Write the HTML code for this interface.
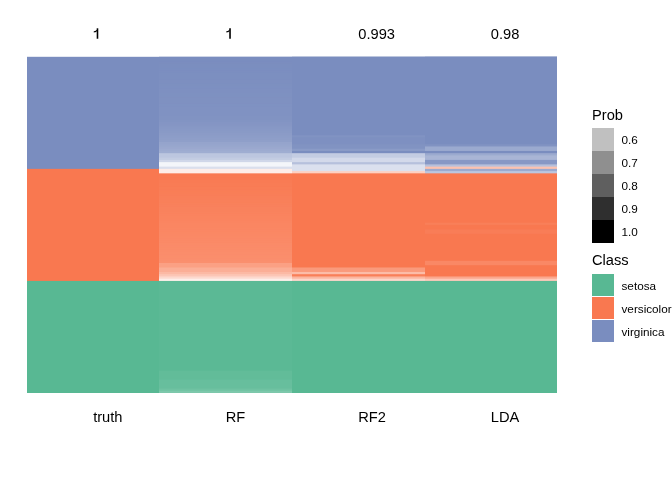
<!DOCTYPE html>
<html><head><meta charset="utf-8"><style>
html,body{margin:0;padding:0;background:#fff;width:672px;height:480px;overflow:hidden}
svg{display:block}
text{font-family:"Liberation Sans",sans-serif;fill:#000}
.lab{font-size:14.67px}
.tit{font-size:14.67px}
.ll{font-size:11.73px}
</style></head><body>
<svg width="672" height="480" viewBox="0 0 672 480">
<rect width="672" height="480" fill="#fff"/>
<g>
<rect x="27.00" y="56.800" width="530.00" height="336.200" fill="#7a8dbf"/>
<rect x="27.00" y="168.867" width="530.00" height="224.133" fill="#f97850"/>
<rect x="27.00" y="280.933" width="530.00" height="112.067" fill="#58b893"/>
<rect x="159.00" y="56.800" width="398.00" height="336.200" fill="#7a8dbf"/>
<rect x="159.00" y="61.283" width="398.00" height="331.717" fill="#7b8dbf"/>
<rect x="159.00" y="63.524" width="398.00" height="329.476" fill="#7b8ebf"/>
<rect x="159.00" y="68.007" width="398.00" height="324.993" fill="#7b8ec0"/>
<rect x="159.00" y="70.248" width="398.00" height="322.752" fill="#7c8ec0"/>
<rect x="159.00" y="72.489" width="398.00" height="320.511" fill="#7c8fc0"/>
<rect x="159.00" y="79.213" width="398.00" height="313.787" fill="#7d8fc0"/>
<rect x="159.00" y="83.696" width="398.00" height="309.304" fill="#7d90c0"/>
<rect x="159.00" y="85.937" width="398.00" height="307.063" fill="#7d90c1"/>
<rect x="159.00" y="88.179" width="398.00" height="304.821" fill="#7e90c1"/>
<rect x="159.00" y="92.661" width="398.00" height="300.339" fill="#7e91c1"/>
<rect x="159.00" y="97.144" width="398.00" height="295.856" fill="#7f91c1"/>
<rect x="159.00" y="103.868" width="398.00" height="289.132" fill="#7f92c2"/>
<rect x="159.00" y="106.109" width="398.00" height="286.891" fill="#8092c2"/>
<rect x="159.00" y="115.075" width="398.00" height="277.925" fill="#8193c2"/>
<rect x="159.00" y="119.557" width="398.00" height="273.443" fill="#8294c3"/>
<rect x="159.00" y="121.799" width="398.00" height="271.201" fill="#8495c4"/>
<rect x="159.00" y="124.040" width="398.00" height="268.960" fill="#8596c4"/>
<rect x="159.00" y="126.281" width="398.00" height="266.719" fill="#8798c5"/>
<rect x="159.00" y="128.523" width="398.00" height="264.477" fill="#8899c6"/>
<rect x="159.00" y="130.764" width="398.00" height="262.236" fill="#899ac6"/>
<rect x="159.00" y="133.005" width="398.00" height="259.995" fill="#8b9bc7"/>
<rect x="159.00" y="135.247" width="398.00" height="257.753" fill="#8c9dc8"/>
<rect x="159.00" y="137.488" width="398.00" height="255.512" fill="#8e9ec9"/>
<rect x="159.00" y="139.729" width="398.00" height="253.271" fill="#8f9fc9"/>
<rect x="159.00" y="141.971" width="398.00" height="251.029" fill="#95a4cc"/>
<rect x="159.00" y="144.212" width="398.00" height="248.788" fill="#97a6cd"/>
<rect x="159.00" y="146.453" width="398.00" height="246.547" fill="#9aa8ce"/>
<rect x="159.00" y="148.695" width="398.00" height="244.305" fill="#9dabd0"/>
<rect x="159.00" y="150.936" width="398.00" height="242.064" fill="#9fadd1"/>
<rect x="159.00" y="153.177" width="398.00" height="239.823" fill="#bcc6df"/>
<rect x="159.00" y="157.660" width="398.00" height="235.340" fill="#c3cce2"/>
<rect x="159.00" y="159.901" width="398.00" height="233.099" fill="#d0d7e9"/>
<rect x="159.00" y="162.143" width="398.00" height="230.857" fill="#f4f6fa"/>
<rect x="159.00" y="166.625" width="398.00" height="226.375" fill="#dadfed"/>
<rect x="159.00" y="168.867" width="398.00" height="224.133" fill="#feede8"/>
<rect x="159.00" y="173.349" width="398.00" height="219.651" fill="#f97952"/>
<rect x="159.00" y="175.591" width="398.00" height="217.409" fill="#f97a52"/>
<rect x="159.00" y="177.832" width="398.00" height="215.168" fill="#f97a53"/>
<rect x="159.00" y="180.073" width="398.00" height="212.927" fill="#f97b54"/>
<rect x="159.00" y="182.315" width="398.00" height="210.685" fill="#f97c55"/>
<rect x="159.00" y="186.797" width="398.00" height="206.203" fill="#f97d56"/>
<rect x="159.00" y="189.039" width="398.00" height="203.961" fill="#f97d57"/>
<rect x="159.00" y="191.280" width="398.00" height="201.720" fill="#f97e57"/>
<rect x="159.00" y="193.521" width="398.00" height="199.479" fill="#f97e58"/>
<rect x="159.00" y="195.763" width="398.00" height="197.237" fill="#f97f59"/>
<rect x="159.00" y="198.004" width="398.00" height="194.996" fill="#f97f5a"/>
<rect x="159.00" y="200.245" width="398.00" height="192.755" fill="#f9805a"/>
<rect x="159.00" y="202.487" width="398.00" height="190.513" fill="#f9815b"/>
<rect x="159.00" y="204.728" width="398.00" height="188.272" fill="#f9815c"/>
<rect x="159.00" y="206.969" width="398.00" height="186.031" fill="#f9825d"/>
<rect x="159.00" y="211.452" width="398.00" height="181.548" fill="#f9835e"/>
<rect x="159.00" y="213.693" width="398.00" height="179.307" fill="#fa835f"/>
<rect x="159.00" y="215.935" width="398.00" height="177.065" fill="#fa845f"/>
<rect x="159.00" y="218.176" width="398.00" height="174.824" fill="#fa8460"/>
<rect x="159.00" y="220.417" width="398.00" height="172.583" fill="#fa8561"/>
<rect x="159.00" y="222.659" width="398.00" height="170.341" fill="#fa8662"/>
<rect x="159.00" y="227.141" width="398.00" height="165.859" fill="#fa8763"/>
<rect x="159.00" y="229.383" width="398.00" height="163.617" fill="#fa8764"/>
<rect x="159.00" y="231.624" width="398.00" height="161.376" fill="#fa8864"/>
<rect x="159.00" y="233.865" width="398.00" height="159.135" fill="#fa8865"/>
<rect x="159.00" y="236.107" width="398.00" height="156.893" fill="#fa8966"/>
<rect x="159.00" y="238.348" width="398.00" height="154.652" fill="#fa8967"/>
<rect x="159.00" y="240.589" width="398.00" height="152.411" fill="#fa8a67"/>
<rect x="159.00" y="242.831" width="398.00" height="150.169" fill="#fa8b68"/>
<rect x="159.00" y="245.072" width="398.00" height="147.928" fill="#fa8b69"/>
<rect x="159.00" y="247.313" width="398.00" height="145.687" fill="#fa8c69"/>
<rect x="159.00" y="249.555" width="398.00" height="143.445" fill="#fa8c6a"/>
<rect x="159.00" y="251.796" width="398.00" height="141.204" fill="#fa8d6b"/>
<rect x="159.00" y="254.037" width="398.00" height="138.963" fill="#fa8d6c"/>
<rect x="159.00" y="256.279" width="398.00" height="136.721" fill="#fa8e6c"/>
<rect x="159.00" y="258.520" width="398.00" height="134.480" fill="#fa8e6d"/>
<rect x="159.00" y="260.761" width="398.00" height="132.239" fill="#fa8f6e"/>
<rect x="159.00" y="263.003" width="398.00" height="129.997" fill="#fba084"/>
<rect x="159.00" y="267.485" width="398.00" height="125.515" fill="#fbae96"/>
<rect x="159.00" y="271.968" width="398.00" height="121.032" fill="#fcb9a4"/>
<rect x="159.00" y="274.209" width="398.00" height="118.791" fill="#fcc6b6"/>
<rect x="159.00" y="276.451" width="398.00" height="116.549" fill="#fdd9ce"/>
<rect x="159.00" y="278.692" width="398.00" height="114.308" fill="#feefea"/>
<rect x="159.00" y="280.933" width="398.00" height="112.067" fill="#5bb995"/>
<rect x="159.00" y="370.587" width="398.00" height="22.413" fill="#62bc99"/>
<rect x="159.00" y="379.552" width="398.00" height="13.448" fill="#67be9d"/>
<rect x="159.00" y="388.517" width="398.00" height="4.483" fill="#6fc2a2"/>
<rect x="159.00" y="390.759" width="398.00" height="2.241" fill="#7dc8ab"/>
<rect x="292.00" y="56.800" width="265.00" height="336.200" fill="#7a8dbf"/>
<rect x="292.00" y="135.247" width="265.00" height="257.753" fill="#8193c2"/>
<rect x="292.00" y="137.488" width="265.00" height="255.512" fill="#7e90c1"/>
<rect x="292.00" y="144.212" width="265.00" height="248.788" fill="#8193c2"/>
<rect x="292.00" y="148.695" width="265.00" height="244.305" fill="#8a9bc7"/>
<rect x="292.00" y="150.936" width="265.00" height="242.064" fill="#7a8dbf"/>
<rect x="292.00" y="153.177" width="265.00" height="239.823" fill="#c3cce2"/>
<rect x="292.00" y="157.660" width="265.00" height="235.340" fill="#d3d9ea"/>
<rect x="292.00" y="162.143" width="265.00" height="230.857" fill="#b6c0dc"/>
<rect x="292.00" y="164.384" width="265.00" height="228.616" fill="#dbe0ee"/>
<rect x="292.00" y="171.108" width="265.00" height="221.892" fill="#fdd0c2"/>
<rect x="292.00" y="173.349" width="265.00" height="219.651" fill="#f97850"/>
<rect x="292.00" y="267.485" width="265.00" height="125.515" fill="#fa9a7c"/>
<rect x="292.00" y="271.968" width="265.00" height="121.032" fill="#fcbca8"/>
<rect x="292.00" y="274.209" width="265.00" height="118.791" fill="#f97f59"/>
<rect x="292.00" y="276.451" width="265.00" height="116.549" fill="#fcb59f"/>
<rect x="292.00" y="278.692" width="265.00" height="114.308" fill="#fdd6ca"/>
<rect x="292.00" y="280.933" width="265.00" height="112.067" fill="#58b893"/>
<rect x="425.00" y="56.800" width="132.00" height="336.200" fill="#7a8dbf"/>
<rect x="425.00" y="144.212" width="132.00" height="248.788" fill="#8193c2"/>
<rect x="425.00" y="146.453" width="132.00" height="246.547" fill="#9baacf"/>
<rect x="425.00" y="150.936" width="132.00" height="242.064" fill="#7a8dbf"/>
<rect x="425.00" y="153.177" width="132.00" height="239.823" fill="#9baacf"/>
<rect x="425.00" y="155.419" width="132.00" height="237.581" fill="#a9b5d5"/>
<rect x="425.00" y="159.901" width="132.00" height="233.099" fill="#8798c5"/>
<rect x="425.00" y="164.384" width="132.00" height="228.616" fill="#b6c0dc"/>
<rect x="425.00" y="166.625" width="132.00" height="226.375" fill="#fcc2b0"/>
<rect x="425.00" y="168.867" width="132.00" height="224.133" fill="#9baacf"/>
<rect x="425.00" y="171.108" width="132.00" height="221.892" fill="#bcc6df"/>
<rect x="425.00" y="173.349" width="132.00" height="219.651" fill="#f97850"/>
<rect x="425.00" y="222.659" width="132.00" height="170.341" fill="#f97f59"/>
<rect x="425.00" y="224.900" width="132.00" height="168.100" fill="#f97850"/>
<rect x="425.00" y="229.383" width="132.00" height="163.617" fill="#f97d57"/>
<rect x="425.00" y="233.865" width="132.00" height="159.135" fill="#f97850"/>
<rect x="425.00" y="260.761" width="132.00" height="132.239" fill="#fa8865"/>
<rect x="425.00" y="265.244" width="132.00" height="127.756" fill="#f97850"/>
<rect x="425.00" y="276.451" width="132.00" height="116.549" fill="#fba78d"/>
<rect x="425.00" y="278.692" width="132.00" height="114.308" fill="#fdc9b9"/>
<rect x="425.00" y="280.933" width="132.00" height="112.067" fill="#58b893"/>
</g>
<g style="will-change:transform">
<g transform="translate(-0.17,0)"><path d="M96.85,28.3 H98.45 V38.75 H96.85 Z" fill="#000"/><path d="M98.2,28.2 C97.4,30.0 96.0,30.9 93.95,31.2 L93.95,32.5 C95.4,32.4 96.3,32.0 96.9,31.5 Z" fill="#000"/></g>
<text x="93.18" y="422" class="lab">truth</text>
<g transform="translate(132.38,0)"><path d="M96.85,28.3 H98.45 V38.75 H96.85 Z" fill="#000"/><path d="M98.2,28.2 C97.4,30.0 96.0,30.9 93.95,31.2 L93.95,32.5 C95.4,32.4 96.3,32.0 96.9,31.5 Z" fill="#000"/></g>
<text x="225.73" y="422" class="lab">RF</text>
<text x="358.27" y="39" class="lab">0.993</text>
<text x="358.27" y="422" class="lab">RF2</text>
<text x="490.83" y="39" class="lab">0.98</text>
<text x="490.83" y="422" class="lab">LDA</text>
<text x="592" y="120" class="tit">Prob</text>
<rect x="592" y="128" width="22" height="23" fill="#c0c0c0"/>
<text x="621.5" y="143.8" class="ll">0.6</text>
<rect x="592" y="151" width="22" height="23" fill="#8f8f8f"/>
<text x="621.5" y="166.8" class="ll">0.7</text>
<rect x="592" y="174" width="22" height="23" fill="#5f5f5f"/>
<text x="621.5" y="189.8" class="ll">0.8</text>
<rect x="592" y="197" width="22" height="23" fill="#2f2f2f"/>
<text x="621.5" y="212.8" class="ll">0.9</text>
<rect x="592" y="220" width="22" height="23" fill="#000000"/>
<text x="621.5" y="235.8" class="ll">1.0</text>
<text x="592" y="265" class="tit">Class</text>
<rect x="592" y="274" width="22" height="22" fill="#58b893"/>
<text x="621.5" y="289.5" class="ll">setosa</text>
<rect x="592" y="297" width="22" height="22" fill="#f97850"/>
<text x="621.5" y="312.5" class="ll">versicolor</text>
<rect x="592" y="320" width="22" height="22" fill="#7a8dbf"/>
<text x="621.5" y="335.5" class="ll">virginica</text>
</g>
</svg>
</body></html>
